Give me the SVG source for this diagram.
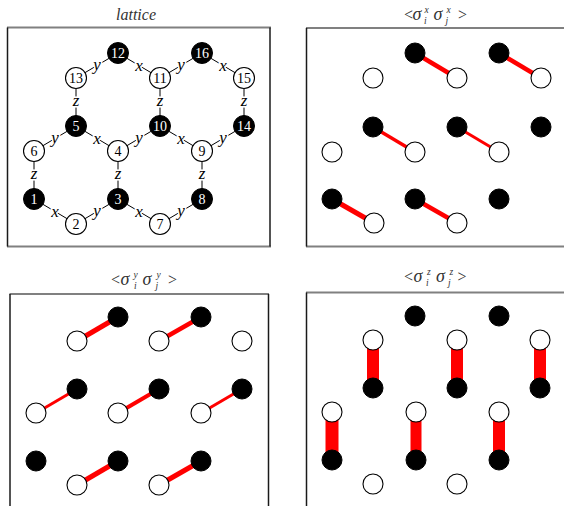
<svg xmlns="http://www.w3.org/2000/svg" width="564" height="506" viewBox="0 0 564 506">
<style>
.bg{fill:#fff}
.fh{stroke:#808080;stroke-width:2;fill:none}
.fv{stroke:#1a1a1a;stroke-width:1.5;fill:none}
.title{font-family:"Liberation Serif",serif;font-size:16px;fill:#333}
.it{font-style:italic}
.sg{font-style:italic;font-size:18px}
.sm{font-size:9.5px}
.e{stroke:#000;stroke-width:1;fill:none}
.lab{font-family:"Liberation Serif",serif;font-style:italic;font-size:17px;fill:#000;text-anchor:middle;stroke:#fff;stroke-width:3;paint-order:stroke}
.nb{fill:#000;stroke:#000;stroke-width:1}
.nw{fill:#fff;stroke:#000;stroke-width:1.1}
.tb{font-family:"Liberation Serif",serif;font-size:14px;fill:#fff;text-anchor:middle}
.tw{font-family:"Liberation Serif",serif;font-size:14px;fill:#000;text-anchor:middle}
.r{stroke:#f00;fill:none}
</style>
<rect class="bg" x="0" y="0" width="564" height="506"/>

<!-- Frames -->
<g id="frames">
<line class="fh" x1="7" y1="27.5" x2="271" y2="27.5"/>
<line class="fh" x1="7" y1="246.5" x2="271" y2="246.5"/>
<line class="fv" x1="7.5" y1="27.5" x2="7.5" y2="246.5"/>
<line class="fv" x1="270" y1="27.5" x2="270" y2="246.5"/>

<line class="fh" x1="306" y1="28" x2="564" y2="28"/>
<line class="fh" x1="306" y1="246.5" x2="564" y2="246.5"/>
<line class="fv" x1="306.5" y1="28" x2="306.5" y2="246.5"/>

<line class="fh" x1="9.5" y1="294" x2="269" y2="294"/>
<line class="fv" x1="10" y1="294" x2="10" y2="506"/>
<line class="fv" x1="268.5" y1="294" x2="268.5" y2="506"/>

<line class="fh" x1="306" y1="292.5" x2="564" y2="292.5"/>
<line class="fv" x1="306.5" y1="292.5" x2="306.5" y2="506"/>
</g>

<!-- Titles -->
<g id="titles">
<text class="title it" x="136" y="20" text-anchor="middle">lattice</text>
<text class="title"><tspan x="404" y="20">&lt;</tspan><tspan class="sg" x="412.5" y="20">σ</tspan><tspan class="it sm" x="424" y="23.5">i</tspan><tspan class="it sm" x="424.5" y="12.5">x</tspan><tspan class="sg" x="433.5" y="20">σ</tspan><tspan class="it sm" x="445.5" y="23.5">j</tspan><tspan class="it sm" x="446.5" y="12.5">x</tspan><tspan x="458" y="20">&gt;</tspan></text>
<text class="title"><tspan x="111" y="285">&lt;</tspan><tspan class="sg" x="120.5" y="285">σ</tspan><tspan class="it sm" x="134" y="288.5">i</tspan><tspan class="it sm" x="133.5" y="277.5">y</tspan><tspan class="sg" x="142.5" y="285">σ</tspan><tspan class="it sm" x="155.5" y="288.5">j</tspan><tspan class="it sm" x="156.5" y="277.5">y</tspan><tspan x="168" y="285">&gt;</tspan></text>
<text class="title"><tspan x="404" y="282">&lt;</tspan><tspan class="sg" x="413.5" y="282">σ</tspan><tspan class="it sm" x="426" y="285.5">i</tspan><tspan class="it sm" x="427" y="274.5">z</tspan><tspan class="sg" x="436" y="282">σ</tspan><tspan class="it sm" x="448" y="285.5">j</tspan><tspan class="it sm" x="449.5" y="274.5">z</tspan><tspan x="457.5" y="282">&gt;</tspan></text>
</g>

<!-- Panel 1: lattice connectors -->
<g id="lattice-connectors">
<line class="e" x1="76" y1="78" x2="118" y2="53"/>
<line class="e" x1="118" y1="53" x2="160" y2="78"/>
<line class="e" x1="160" y1="78" x2="202" y2="53"/>
<line class="e" x1="202" y1="53" x2="244" y2="78"/>
<line class="e" x1="76" y1="78" x2="76" y2="126"/>
<line class="e" x1="160" y1="78" x2="160" y2="126"/>
<line class="e" x1="244" y1="78" x2="244" y2="126"/>
<line class="e" x1="34" y1="151" x2="76" y2="126"/>
<line class="e" x1="76" y1="126" x2="118" y2="151"/>
<line class="e" x1="118" y1="151" x2="160" y2="126"/>
<line class="e" x1="160" y1="126" x2="202" y2="151"/>
<line class="e" x1="202" y1="151" x2="244" y2="126"/>
<line class="e" x1="34" y1="151" x2="34" y2="199"/>
<line class="e" x1="118" y1="151" x2="118" y2="199"/>
<line class="e" x1="202" y1="151" x2="202" y2="199"/>
<line class="e" x1="34" y1="199" x2="76" y2="224"/>
<line class="e" x1="76" y1="224" x2="118" y2="199"/>
<line class="e" x1="118" y1="199" x2="160" y2="224"/>
<line class="e" x1="160" y1="224" x2="202" y2="199"/>

<text class="lab" x="97" y="70">y</text>
<text class="lab" x="139" y="71">x</text>
<text class="lab" x="181" y="70">y</text>
<text class="lab" x="223" y="71">x</text>
<text class="lab" x="76" y="106">z</text>
<text class="lab" x="160" y="106">z</text>
<text class="lab" x="244" y="106">z</text>
<text class="lab" x="55" y="143">y</text>
<text class="lab" x="97" y="144">x</text>
<text class="lab" x="139" y="143">y</text>
<text class="lab" x="181" y="144">x</text>
<text class="lab" x="223" y="143">y</text>
<text class="lab" x="34" y="179">z</text>
<text class="lab" x="118" y="179">z</text>
<text class="lab" x="202" y="179">z</text>
<text class="lab" x="55" y="217">x</text>
<text class="lab" x="97" y="216">y</text>
<text class="lab" x="139" y="217">x</text>
<text class="lab" x="181" y="216">y</text>
</g>

<!-- Panel 1 nodes -->
<g id="n12"><circle class="nb" cx="118" cy="53" r="10.5"/><text class="tb" x="118" y="58">12</text></g>
<g id="n16"><circle class="nb" cx="202" cy="53" r="10.5"/><text class="tb" x="202" y="58">16</text></g>
<g id="n13"><circle class="nw" cx="76" cy="78" r="10.5"/><text class="tw" x="76" y="83">13</text></g>
<g id="n11"><circle class="nw" cx="160" cy="78" r="10.5"/><text class="tw" x="160" y="83">11</text></g>
<g id="n15"><circle class="nw" cx="244" cy="78" r="10.5"/><text class="tw" x="244" y="83">15</text></g>
<g id="n5"><circle class="nb" cx="76" cy="126" r="10.5"/><text class="tb" x="76" y="131">5</text></g>
<g id="n10"><circle class="nb" cx="160" cy="126" r="10.5"/><text class="tb" x="160" y="131">10</text></g>
<g id="n14"><circle class="nb" cx="244" cy="126" r="10.5"/><text class="tb" x="244" y="131">14</text></g>
<g id="n6"><circle class="nw" cx="34" cy="151" r="10.5"/><text class="tw" x="34" y="156">6</text></g>
<g id="n4"><circle class="nw" cx="118" cy="151" r="10.5"/><text class="tw" x="118" y="156">4</text></g>
<g id="n9"><circle class="nw" cx="202" cy="151" r="10.5"/><text class="tw" x="202" y="156">9</text></g>
<g id="n1"><circle class="nb" cx="34" cy="199" r="10.5"/><text class="tb" x="34" y="204">1</text></g>
<g id="n3"><circle class="nb" cx="118" cy="199" r="10.5"/><text class="tb" x="118" y="204">3</text></g>
<g id="n8"><circle class="nb" cx="202" cy="199" r="10.5"/><text class="tb" x="202" y="204">8</text></g>
<g id="n2"><circle class="nw" cx="76" cy="224" r="10.5"/><text class="tw" x="76" y="229">2</text></g>
<g id="n7"><circle class="nw" cx="160" cy="224" r="10.5"/><text class="tw" x="160" y="229">7</text></g>

<!-- Panel 2: x correlations -->
<g id="x-bonds">
<line class="r" stroke-width="4.5" x1="415" y1="53" x2="457" y2="78"/>
<line class="r" stroke-width="4.5" x1="499" y1="53" x2="541" y2="78"/>
<line class="r" stroke-width="3.5" x1="373" y1="127" x2="415" y2="152"/>
<line class="r" stroke-width="3" x1="457" y1="127" x2="499" y2="152"/>
<line class="r" stroke-width="5" x1="332" y1="199" x2="374" y2="223"/>
<line class="r" stroke-width="4.5" x1="415" y1="199" x2="457" y2="223"/>
</g>
<g id="x-nodes">
<circle class="nb" cx="415" cy="53" r="10"/>
<circle class="nb" cx="499" cy="53" r="10"/>
<circle class="nw" cx="373" cy="78" r="10"/>
<circle class="nw" cx="457" cy="78" r="10"/>
<circle class="nw" cx="541" cy="78" r="10"/>
<circle class="nb" cx="373" cy="127" r="10"/>
<circle class="nb" cx="457" cy="127" r="10"/>
<circle class="nb" cx="541" cy="127" r="10"/>
<circle class="nw" cx="332" cy="152" r="10"/>
<circle class="nw" cx="415" cy="152" r="10"/>
<circle class="nw" cx="499" cy="152" r="10"/>
<circle class="nb" cx="332" cy="199" r="10"/>
<circle class="nb" cx="415" cy="199" r="10"/>
<circle class="nb" cx="499" cy="199" r="10"/>
<circle class="nw" cx="374" cy="223" r="10"/>
<circle class="nw" cx="457" cy="223" r="10"/>
</g>

<!-- Panel 3: y correlations -->
<g id="y-bonds">
<line class="r" stroke-width="5" x1="77" y1="341" x2="118" y2="317"/>
<line class="r" stroke-width="4.5" x1="159" y1="341" x2="201" y2="317"/>
<line class="r" stroke-width="3" x1="36" y1="413" x2="77" y2="389"/>
<line class="r" stroke-width="4" x1="118" y1="413" x2="159" y2="389"/>
<line class="r" stroke-width="3" x1="201" y1="413" x2="242" y2="389"/>
<line class="r" stroke-width="5" x1="77" y1="485" x2="118" y2="461"/>
<line class="r" stroke-width="5" x1="159" y1="485" x2="201" y2="461"/>
</g>
<g id="y-nodes">
<circle class="nb" cx="118" cy="317" r="10"/>
<circle class="nb" cx="201" cy="317" r="10"/>
<circle class="nw" cx="77" cy="341" r="10"/>
<circle class="nw" cx="159" cy="341" r="10"/>
<circle class="nw" cx="242" cy="341" r="10"/>
<circle class="nb" cx="77" cy="389" r="10"/>
<circle class="nb" cx="159" cy="389" r="10"/>
<circle class="nb" cx="242" cy="389" r="10"/>
<circle class="nw" cx="36" cy="413" r="10"/>
<circle class="nw" cx="118" cy="413" r="10"/>
<circle class="nw" cx="201" cy="413" r="10"/>
<circle class="nb" cx="36" cy="461" r="10"/>
<circle class="nb" cx="118" cy="461" r="10"/>
<circle class="nb" cx="201" cy="461" r="10"/>
<circle class="nw" cx="77" cy="485" r="10"/>
<circle class="nw" cx="159" cy="485" r="10"/>
</g>

<!-- Panel 4: z correlations -->
<g id="z-bonds">
<line class="r" stroke-width="12" x1="373" y1="340" x2="373" y2="388"/>
<line class="r" stroke-width="12" x1="457" y1="340" x2="457" y2="388"/>
<line class="r" stroke-width="12" x1="540" y1="340" x2="540" y2="388"/>
<line class="r" stroke-width="13" x1="332" y1="412" x2="332" y2="460"/>
<line class="r" stroke-width="11" x1="416" y1="412" x2="416" y2="460"/>
<line class="r" stroke-width="12" x1="499" y1="412" x2="499" y2="460"/>
</g>
<g id="z-nodes">
<circle class="nb" cx="415" cy="316" r="10"/>
<circle class="nb" cx="499" cy="316" r="10"/>
<circle class="nw" cx="373" cy="340" r="10"/>
<circle class="nw" cx="457" cy="340" r="10"/>
<circle class="nw" cx="540" cy="340" r="10"/>
<circle class="nb" cx="373" cy="388" r="10"/>
<circle class="nb" cx="457" cy="388" r="10"/>
<circle class="nb" cx="540" cy="388" r="10"/>
<circle class="nw" cx="332" cy="412" r="10"/>
<circle class="nw" cx="416" cy="412" r="10"/>
<circle class="nw" cx="499" cy="412" r="10"/>
<circle class="nb" cx="332" cy="460" r="10"/>
<circle class="nb" cx="416" cy="460" r="10"/>
<circle class="nb" cx="499" cy="460" r="10"/>
<circle class="nw" cx="373" cy="484" r="10"/>
<circle class="nw" cx="457" cy="484" r="10"/>
</g>
</svg>
